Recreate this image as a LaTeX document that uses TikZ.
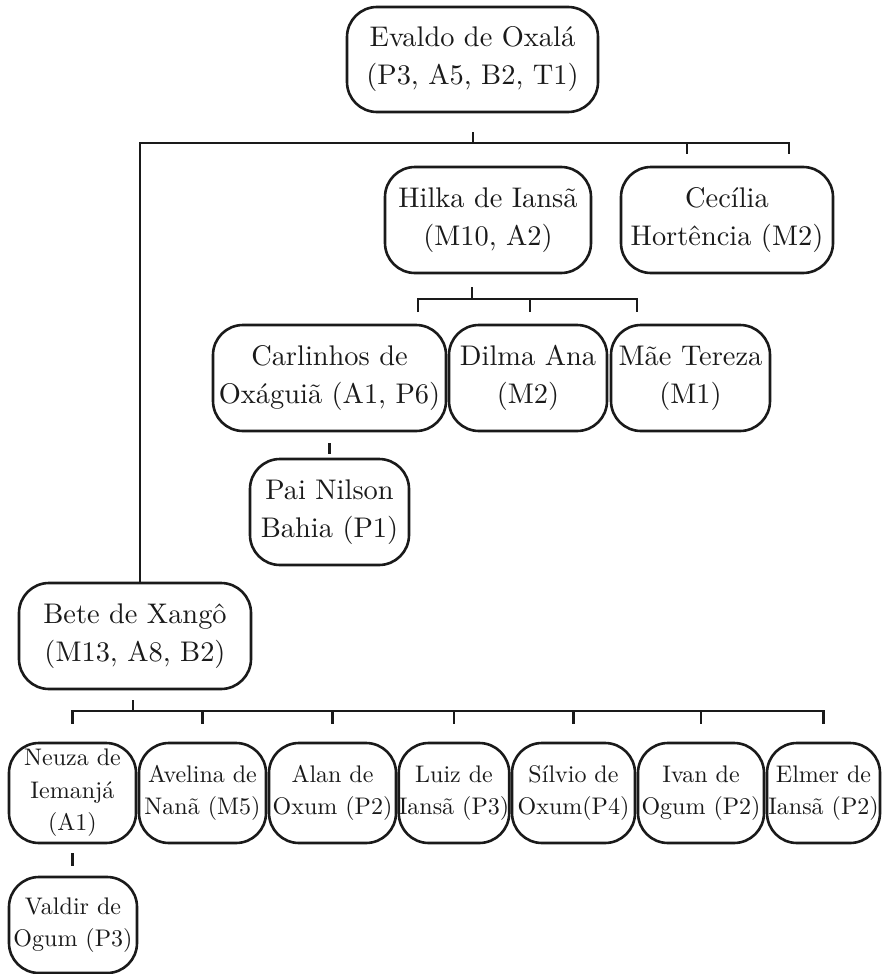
\documentclass[tikz,border=0pt]{standalone}
\usepackage{fontspec}
% the 10pt design size of Latin Modern, used at every size
\setmainfont{lmroman10-regular.otf}
\usetikzlibrary{calc}

\definecolor{ink}{HTML}{1A1A1A}

\tikzset{
  person/.style={draw=ink, line width=2.6pt, rounded corners=30pt, inner sep=0pt,
    align=center, text=ink, font=\fontsize{28.4}{38}\selectfont},
  small/.style={person, font=\fontsize{24}{32.5}\selectfont},
  link/.style={draw=ink, line width=2.4pt},
}

\begin{document}
\begin{tikzpicture}[x=1pt, y=1pt]
  % page frame
  \useasboundingbox (0,0) rectangle (886,-974);

  % first level
  \node[person, minimum width=251pt, minimum height=105pt] (evaldo) at (472.5,-59.5)
    {Evaldo de Oxalá\\(P3, A5, B2, T1)};

  % second level
  \node[person, minimum width=206pt, minimum height=106pt] (hilka) at (488,-220)
    {Hilka de Iansã\\(M10, A2)};
  \node[person, minimum width=212pt, minimum height=106pt] (cecilia) at (727,-220)
    {Cecília\\Hortência (M2)};
  \node[person, minimum width=232pt, minimum height=106pt] (bete) at (135,-636)
    {Bete de Xangô\\(M13, A8, B2)};

  % children of Hilka
  \node[person, minimum width=233pt, minimum height=106pt] (carlinhos) at (329.5,-378)
    {Carlinhos de\\Oxáguiã (A1, P6)};
  \node[person, minimum width=158pt, minimum height=106pt] (dilma) at (528,-378)
    {Dilma Ana\\(M2)};
  \node[person, minimum width=159pt, minimum height=106pt] (mae) at (690.5,-378)
    {Mãe Tereza\\(M1)};
  \node[person, minimum width=159pt, minimum height=106pt] (pai) at (329.5,-512)
    {Pai Nilson\\Bahia (P1)};

  % children of Bete
  \node[small, minimum width=127pt, minimum height=100pt] (neuza) at (72.5,-793)
    {Neuza de\\Iemanjá\\(A1)};
  \node[small, minimum width=127pt, minimum height=100pt] (avelina) at (202.5,-793)
    {Avelina de\\Nanã (M5)};
  \node[small, minimum width=127pt, minimum height=100pt] (alan) at (332.5,-793)
    {Alan de\\Oxum (P2)};
  \node[small, minimum width=110pt, minimum height=100pt] (luiz) at (454,-793)
    {Luiz de\\Iansã (P3)};
  \node[small, minimum width=123pt, minimum height=100pt] (silvio) at (573.5,-793)
    {Sílvio de\\Oxum(P4)};
  \node[small, minimum width=126pt, minimum height=100pt] (ivan) at (701,-793)
    {Ivan de\\Ogum (P2)};
  \node[small, minimum width=113pt, minimum height=100pt] (elmer) at (823.5,-793)
    {Elmer de\\Iansã (P2)};
  \node[small, minimum width=128pt, minimum height=96pt] (valdir) at (73,-925)
    {Valdir de\\Ogum (P3)};

  % bracket under Evaldo
  \coordinate (jtop) at (473,-143);
  \coordinate (sa) at (687,-154);
  \coordinate (sb) at (789,-154);
  \draw[link] ([xshift=0.5pt,yshift=-19pt]evaldo.south) -- (jtop);
  \draw[link] ([xshift=5pt]bete.north) |- (jtop) -- (sb |- jtop) -- (sb);
  \draw[link] (sa |- jtop) -- (sa);

  % bracket under Hilka
  \coordinate (jh) at (472,-299);
  \coordinate (ha) at (418,-312);
  \coordinate (hb) at (530,-312);
  \coordinate (hc) at (637,-312);
  \draw[link] ([xshift=-16pt,yshift=-13pt]hilka.south) -- (jh);
  \draw[link] (ha) |- (jh) -| (hc);
  \draw[link] (hb |- jh) -- (hb);

  % stub under Carlinhos
  \draw[link] ([yshift=-11pt]carlinhos.south) -- ++(0,-11pt);

  % bracket under Bete
  \coordinate (jb) at (133,-712);
  \draw[link] ([xshift=-2pt,yshift=-10pt]bete.south) -- (jb);
  \draw[link] ([yshift=18pt]neuza.north) |- ([yshift=31pt]elmer.north) -- ([yshift=18pt]elmer.north);
  \foreach \n in {avelina,alan,luiz,silvio,ivan}
    \draw[link] ([yshift=18pt]\n.north) -- ++(0,13pt);

  % stub under Neuza
  \draw[link] ([yshift=-9pt]neuza.south) -- ++(0,-13pt);
\end{tikzpicture}
\end{document}
